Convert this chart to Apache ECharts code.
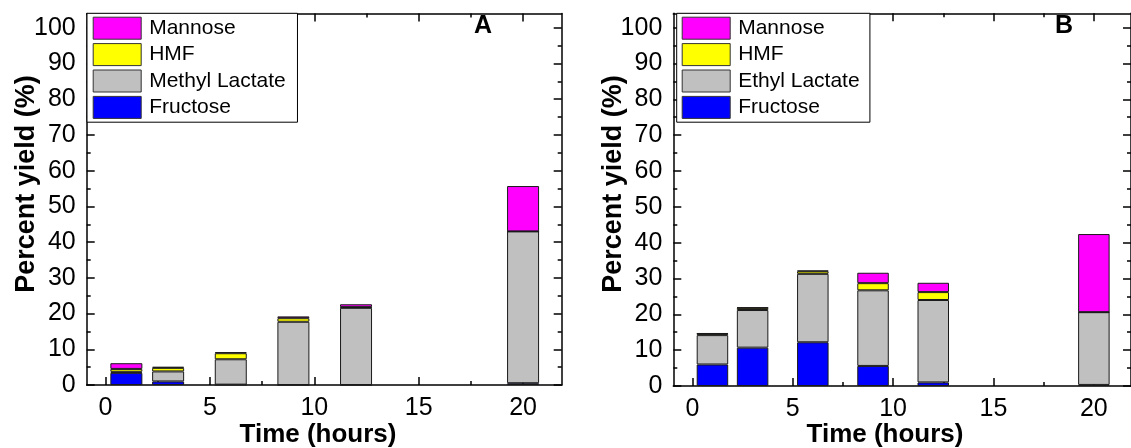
<!DOCTYPE html>
<html>
<head>
<meta charset="utf-8">
<script src="https://cdn.jsdelivr.net/npm/echarts@6/dist/echarts.min.js"></script>
<style>
html,body{margin:0;padding:0;background:#fff;}
#chart{width:1131px;height:448px;}
</style>
</head>
<body>
<div id="chart"></div>
<script>
// ---- data ----
const times = [1, 3, 6, 9, 12, 20];
const xMajorTicks = [0, 5, 10, 15, 20];
const xMinorTicks = [2.5, 7.5, 12.5, 17.5];
const yMajorTicks = [0, 10, 20, 30, 40, 50, 60, 70, 80, 90, 100];
const yMinorTicks = [5, 15, 25, 35, 45, 55, 65, 75, 85, 95];

const A_fructose      = [3.4, 1.0, 0.1, 0.0, 0.0, 0.5];
const A_methylLactate = [0.3, 2.8, 7.1, 17.7, 21.6, 42.5];
const A_hmf           = [0.8, 1.0, 1.7, 1.0, 0.2, 0.0];
const A_mannose       = [1.6, 0.3, 0.3, 0.5, 0.8, 12.7];

const B_fructose      = [6.0, 10.7, 12.2, 5.6, 1.0, 0.3];
const B_ethylLactate  = [8.2, 10.5, 19.1, 21.1, 23.0, 20.3];
const B_hmf           = [0.4, 0.6, 0.7, 2.0, 2.2, 0.0];
const B_mannose       = [0.1, 0.1, 0.2, 2.9, 2.6, 21.8];

const legendA = ['Mannose', 'HMF', 'Methyl Lactate', 'Fructose'];
const legendB = ['Mannose', 'HMF', 'Ethyl Lactate', 'Fructose'];
const yTitle = 'Percent yield (%)';
const xTitle = 'Time (hours)';

// ---- styling ----
const FONT = '"Liberation Sans", Arial, Helvetica, sans-serif';
const colors = { Mannose: '#ff00ff', HMF: '#ffff00', 'Methyl Lactate': '#c0c0c0', 'Ethyl Lactate': '#c0c0c0', Fructose: '#0000ff' };
const lineStyle = { color: '#000', width: 1.5 };

function xAxesFor(gi, min, max) {
  const base = { type: 'value', gridIndex: gi, min: min, max: max, splitLine: { show: false } };
  return [
    Object.assign({}, base, { position: 'bottom',
      axisLine: { show: true, onZero: false, lineStyle: lineStyle },
      axisTick: { show: true, inside: true, length: 8, lineStyle: lineStyle, customValues: xMajorTicks },
      axisLabel: { show: true, customValues: xMajorTicks, fontSize: 25, color: '#000', fontFamily: FONT, margin: 11 } }),
    Object.assign({}, base, { position: 'bottom',
      axisLine: { show: false, onZero: false },
      axisTick: { show: true, inside: true, length: 4, lineStyle: lineStyle, customValues: xMinorTicks },
      axisLabel: { show: false } }),
    Object.assign({}, base, { position: 'top',
      axisLine: { show: true, onZero: false, lineStyle: lineStyle },
      axisTick: { show: true, inside: true, length: 8, lineStyle: lineStyle, customValues: xMajorTicks },
      axisLabel: { show: false } }),
    Object.assign({}, base, { position: 'top',
      axisLine: { show: false, onZero: false },
      axisTick: { show: true, inside: true, length: 4, lineStyle: lineStyle, customValues: xMinorTicks },
      axisLabel: { show: false } })
  ];
}
function yAxesFor(gi) {
  const base = { type: 'value', gridIndex: gi, min: 0, max: 104, splitLine: { show: false } };
  return [
    Object.assign({}, base, { position: 'left',
      axisLine: { show: true, onZero: false, lineStyle: lineStyle },
      axisTick: { show: true, inside: true, length: 8, lineStyle: lineStyle, customValues: yMajorTicks },
      axisLabel: { show: true, customValues: yMajorTicks, fontSize: 25, color: '#000', fontFamily: FONT, margin: 11 } }),
    Object.assign({}, base, { position: 'left',
      axisLine: { show: false, onZero: false },
      axisTick: { show: true, inside: true, length: 4, lineStyle: lineStyle, customValues: yMinorTicks },
      axisLabel: { show: false } }),
    Object.assign({}, base, { position: 'right',
      axisLine: { show: true, onZero: false, lineStyle: lineStyle },
      axisTick: { show: true, inside: true, length: 8, lineStyle: lineStyle, customValues: yMajorTicks },
      axisLabel: { show: false } }),
    Object.assign({}, base, { position: 'right',
      axisLine: { show: false, onZero: false },
      axisTick: { show: true, inside: true, length: 4, lineStyle: lineStyle, customValues: yMinorTicks },
      axisLabel: { show: false } })
  ];
}

function barSeries(name, values, axisIdx, stack, width) {
  return {
    type: 'bar', name: name, stack: stack,
    xAxisIndex: axisIdx, yAxisIndex: axisIdx,
    barWidth: width,
    // value first so that the stack is computed on the y value (by index)
    data: times.map((t, i) => [values[i], t]),
    encode: { x: 1, y: 0 },
    itemStyle: { color: colors[name], borderColor: '#1a1a1a', borderWidth: 1 },
    emphasis: { disabled: true },
    silent: true
  };
}

function legendFor(names, left, top, padding) {
  return {
    orient: 'vertical', left: left, top: top, data: names,
    itemWidth: 48, itemHeight: 22, itemGap: 3.4,
    padding: padding, backgroundColor: '#fff', borderColor: '#000', borderWidth: 1,
    icon: 'rect', selectedMode: false, z: 10,
    itemStyle: { borderColor: '#333', borderWidth: 1 },
    textStyle: { fontSize: 21, color: '#000', fontFamily: FONT, lineHeight: 22, padding: [0, 0, 0, 3] }
  };
}

function textG(txt, x, y, size, rot) {
  return {
    type: 'text', x: x, y: y, rotation: rot || 0, z: 20,
    style: { text: txt, font: 'bold ' + size + 'px ' + FONT, fill: '#000', textAlign: 'center', textVerticalAlign: 'middle' }
  };
}

const chart = echarts.init(document.getElementById('chart'), null, { renderer: 'canvas' });
chart.setOption({
  animation: false,
  backgroundColor: '#fff',
  grid: [
    { left: 86.7, right: 569.3, top: 13.5, bottom: 63 },
    { left: 673.3, right: -9.2, top: 13.3, bottom: 62 }
  ],
  xAxis: xAxesFor(0, -0.9, 21.85).concat(xAxesFor(1, -0.95, 21.85)),
  yAxis: yAxesFor(0).concat(yAxesFor(1)),
  legend: [
    legendFor(legendA, 87, 13.3, [3.4, 11.7, 3.3, 5.7]),
    legendFor(legendB, 676.7, 13.3, [3.4, 10.3, 3.3, 5])
  ],
  series: [
    barSeries('Fructose', A_fructose, 0, 'A', 32),
    barSeries('Methyl Lactate', A_methylLactate, 0, 'A', 32),
    barSeries('HMF', A_hmf, 0, 'A', 32),
    barSeries('Mannose', A_mannose, 0, 'A', 32),
    barSeries('Fructose', B_fructose, 4, 'B', 31.5),
    barSeries('Ethyl Lactate', B_ethylLactate, 4, 'B', 31.5),
    barSeries('HMF', B_hmf, 4, 'B', 31.5),
    barSeries('Mannose', B_mannose, 4, 'B', 31.5)
  ],
  graphic: [
    textG(yTitle, 27, 184, 27, Math.PI / 2),
    textG(yTitle, 614, 184, 27, Math.PI / 2),
    textG(xTitle, 318, 435, 26),
    textG(xTitle, 885, 435, 26),
    textG('A', 483, 26, 25),
    textG('B', 1064, 26, 25)
  ]
});
</script>
</body>
</html>
